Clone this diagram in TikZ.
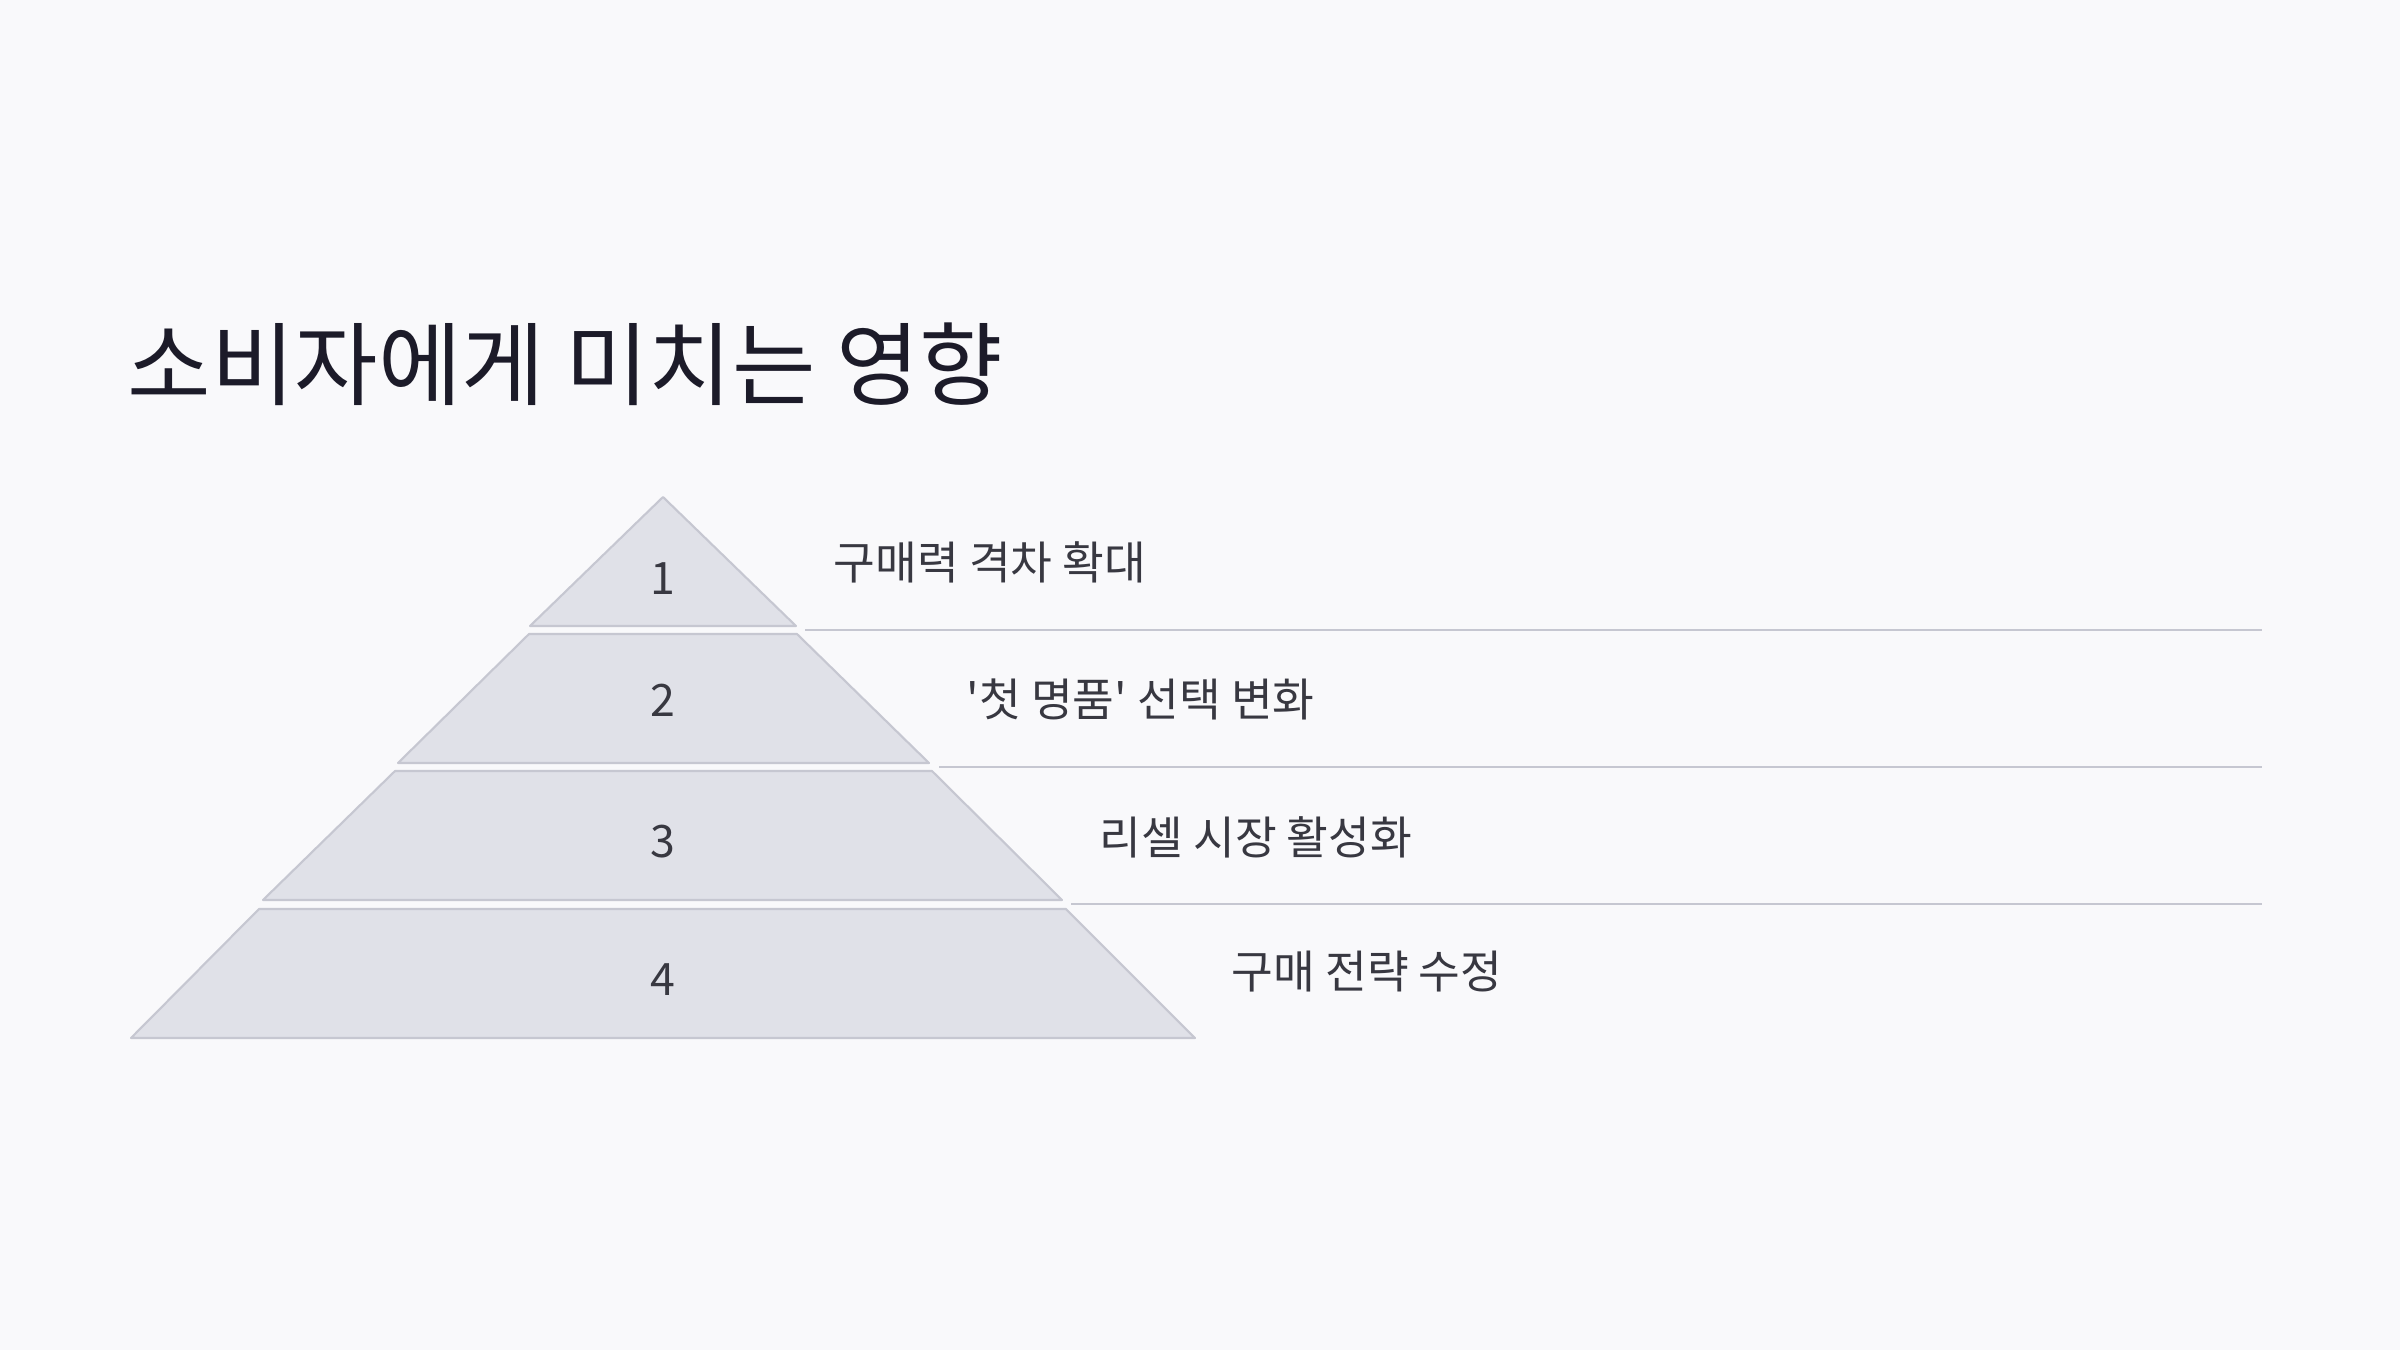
\documentclass[tikz,border=0pt]{standalone}
\usepackage{fontspec}
\usepackage{xcolor}
\newfontfamily\krfont[Ligatures=TeXOff]{Noto Sans CJK KR}
\usetikzlibrary{positioning}

\definecolor{pagebg}{HTML}{F9F9FB}
\definecolor{layerfill}{HTML}{E0E1E8}
\definecolor{layerline}{HTML}{C6C7D1}
\definecolor{titleink}{HTML}{1C1B29}
\definecolor{labelink}{HTML}{383841}

\begin{document}
\begin{tikzpicture}[x=0.01cm, y=-0.01cm,
    layer/.style={fill=layerfill, draw=layerline, line width=0.6pt, line join=round},
    rank/.style={inner sep=0pt, text=labelink, font=\krfont\fontsize{12.7}{15}\selectfont},
    effect/.style={anchor=west, inner sep=0pt, text=labelink, font=\krfont\fontsize{12.9}{15}\selectfont},
    divider/.style={draw=layerline, line width=0.6pt}]
            \fill[pagebg] (0,0) rectangle (2400,1350);

            \node[anchor=west, inner sep=0pt, text=titleink, font=\krfont\fontsize{25.8}{30}\selectfont] (title) at (127,364) {소비자에게 미치는 영향};

            % pyramid layers
            \draw[layer] (663,497) -- (796,626) -- (530,626) -- cycle;
            \draw[layer] (529,634) -- (797,634) -- (929,763) -- (398,763) -- cycle;
            \draw[layer] (395,771) -- (932,771) -- (1062,900) -- (263,900) -- cycle;
            \draw[layer] (259,909) -- (1066,909) -- (1195,1038) -- (131,1038) -- cycle;

            \node[rank] (1) at (663,579) {1};
            \node[rank] (2) at (663,700) {2};
            \node[rank] (3) at (663,842) {3};
            \node[rank] (4) at (663,980) {4};

            \node[effect] (e1) at (833,562) {구매력 격차 확대};
            \node[effect] (e2) at (966,699) {'첫 명품' 선택 변화};
            \node[effect] (e3) at (1099,837) {리셀 시장 활성화};
            \node[effect] (e4) at (1231,972) {구매 전략 수정};

            \coordinate (d1a) at (805,630);
            \coordinate (d1b) at (2262,630);
            \coordinate (d2a) at (939,767);
            \coordinate (d2b) at (2262,767);
            \coordinate (d3a) at (1071,904);
            \coordinate (d3b) at (2262,904);

            \draw[divider] (d1a) -- (d1b);
            \draw[divider] (d2a) -- (d2b);
            \draw[divider] (d3a) -- (d3b);
        \end{tikzpicture}
\end{document}
